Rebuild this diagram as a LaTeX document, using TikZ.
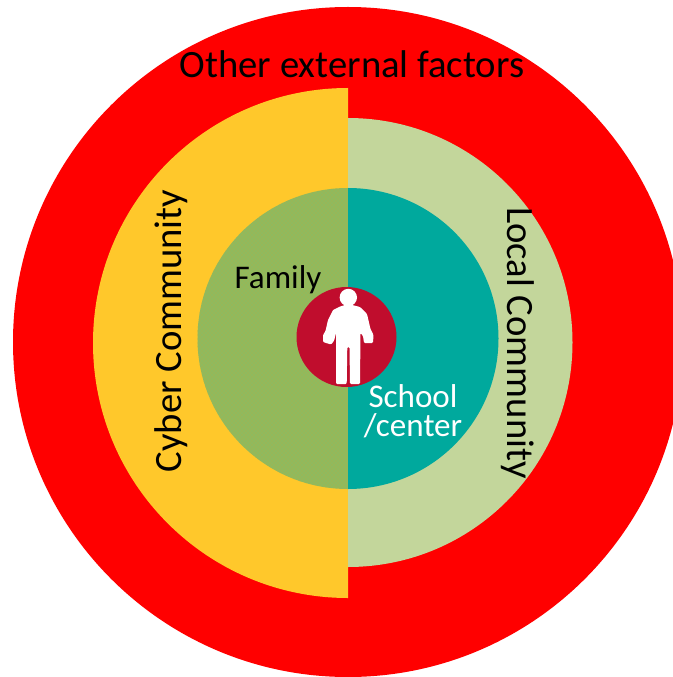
\documentclass[tikz,border=0pt]{standalone}
\usepackage{fontspec}
\setmainfont{Carlito}
\usepackage{tikz}
\usetikzlibrary{patterns}

\definecolor{outerred}{HTML}{FF0000}
\definecolor{cyberyellow}{HTML}{FFC82B}
\definecolor{localgreen}{HTML}{C3D69B}
\definecolor{familygreen}{HTML}{8FBA5E}
\definecolor{familydots}{HTML}{B4AE48}
\definecolor{schoolteal}{HTML}{00A99D}
\definecolor{selfred}{HTML}{C00D2D}

\begin{document}
\begin{tikzpicture}[
            x = 0.75pt, % one unit is one pixel
            y = -0.75pt,
            every node/.style = {inner sep = 0pt, align = center},
            bigtext/.style = {font = \fontsize{29}{29}\selectfont},
            midtext/.style = {font = \fontsize{24.8}{22}\selectfont}
        ]

        \clip (0,0) rectangle (673,677);

        % rings
        \fill[outerred] (348,342) circle [radius = 335];
        \fill[cyberyellow] (348,88) arc [start angle = -90, end angle = -270, radius = 255] -- cycle;
        \fill[localgreen] (348,118) arc [start angle = -90, end angle = 90, radius = 224.5] -- cycle;

        % family and school
        \fill[familygreen] (348,188) arc [start angle = -90, end angle = -270, radius = 150.5] -- cycle;
        \fill[pattern = crosshatch dots, pattern color = familydots] (348,188) arc [start angle = -90, end angle = -270, radius = 150.5] -- cycle;
        \fill[schoolteal] (348,188) arc [start angle = -90, end angle = 90, radius = 150.5] -- cycle;

        % child in the middle
        \fill[selfred] (346.5,337) circle [radius = 50];
        \fill[white] (348.3,297.5) circle [radius = 8.7];
        \fill[white, rounded corners = 0.8pt]
            (348.3,304) -- (340,306.5) -- (333,310) -- (328,320) -- (325.5,331) -- (323,335)
            -- (323,342) -- (331,344.5) -- (334,341) -- (336,333) -- (336,384) -- (346.7,384)
            -- (347.3,347) -- (349.5,347) -- (350,384) -- (360,384) -- (360.5,333)
            -- (363,336) -- (364,343) -- (373,343) -- (373.5,335) -- (370.5,329) -- (367,314)
            -- (360,307) -- cycle;

        % labels
        \node[bigtext] (external) at (352,64) {Other external factors};
        \node[bigtext, rotate = 90] (cyber) at (171,331) {Cyber Community};
        \node[bigtext, rotate = -90] (local) at (518,343) {Local Community};
        \node[midtext] (family) at (278,279.5) {Family};
        \node[midtext, white] (school) at (413,411) {School\\/center};

  \end{tikzpicture}
\end{document}
